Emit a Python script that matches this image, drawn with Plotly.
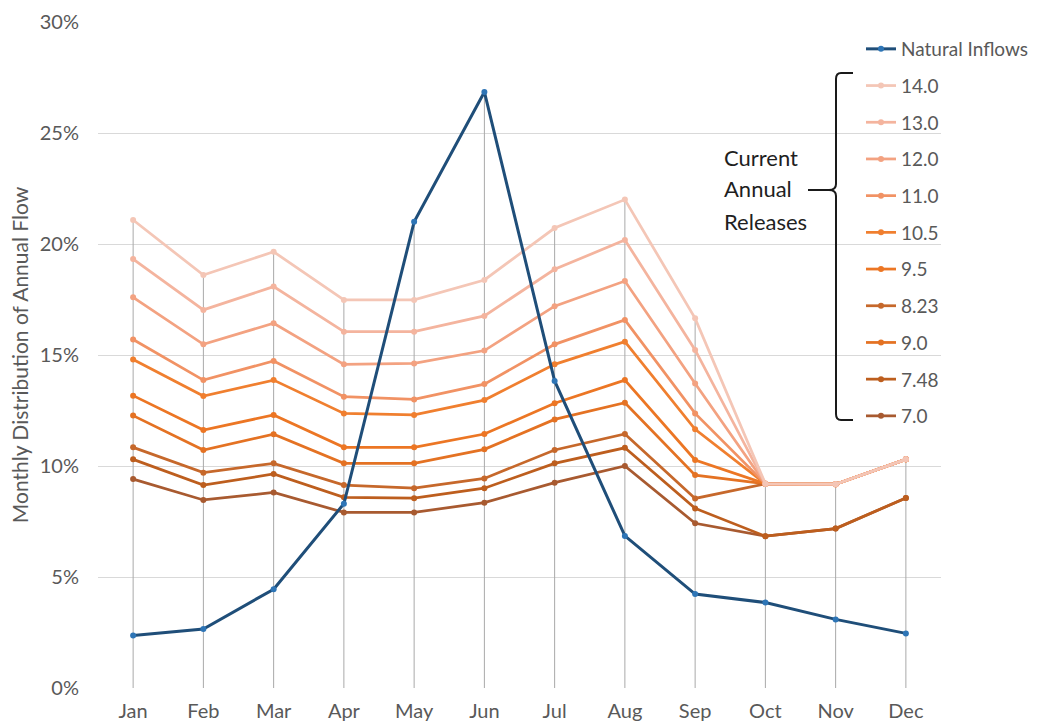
import plotly.graph_objects as go

months = ["Jan", "Feb", "Mar", "Apr", "May", "Jun",
          "Jul", "Aug", "Sep", "Oct", "Nov", "Dec"]

# Monthly distribution of annual flow, in percent
natural_inflows = [2.36, 2.66, 4.45, 8.3, 21.0, 26.85, 13.83, 6.85, 4.23, 3.85, 3.09, 2.46]

release_names = ["14.0", "13.0", "12.0", "11.0", "10.5", "9.5", "8.23", "9.0", "7.48", "7.0"]

rel_14_0 = [21.08, 18.6, 19.65, 17.48, 17.48, 18.38, 20.72, 22.0, 16.65, 9.2, 9.18, 10.3]
rel_13_0 = [19.32, 17.03, 18.08, 16.05, 16.05, 16.76, 18.86, 20.18, 15.23, 9.2, 9.18, 10.3]
rel_12_0 = [17.6, 15.48, 16.43, 14.58, 14.62, 15.2, 17.2, 18.33, 13.72, 9.2, 9.18, 10.3]
rel_11_0 = [15.7, 13.87, 14.73, 13.12, 13.0, 13.69, 15.48, 16.58, 12.37, 9.2, 9.18, 10.3]
rel_10_5 = [14.8, 13.15, 13.87, 12.37, 12.3, 12.97, 14.58, 15.6, 11.65, 9.2, 9.18, 10.3]
rel_9_5 = [13.17, 11.62, 12.3, 10.84, 10.84, 11.44, 12.83, 13.87, 10.27, 9.2, 9.18, 10.3]
rel_8_23 = [10.84, 9.7, 10.12, 9.14, 9.0, 9.44, 10.72, 11.44, 8.54, 9.2, 9.18, 10.3]
rel_9_0 = [12.27, 10.72, 11.43, 10.12, 10.12, 10.75, 12.1, 12.85, 9.59, 9.2, 9.18, 10.3]
rel_7_48 = [10.3, 9.14, 9.64, 8.59, 8.55, 9.0, 10.12, 10.82, 8.09, 6.84, 7.18, 8.56]
rel_7_0 = [9.41, 8.47, 8.81, 7.91, 7.91, 8.35, 9.25, 10.0, 7.42, 6.84, 7.18, 8.56]

release_series = [rel_14_0, rel_13_0, rel_12_0, rel_11_0, rel_10_5,
                  rel_9_5, rel_8_23, rel_9_0, rel_7_48, rel_7_0]

release_colors = ["#F4C6B6", "#F4B49E", "#F3A281", "#F19264", "#F07F2F",
                  "#EC7624", "#C6682B", "#E47223", "#BD5E1E", "#A85A30"]

y_ticks = [0, 5, 10, 15, 20, 25, 30]
y_tick_labels = [f"{v}%" for v in y_ticks]

fig = go.Figure()

# Drop lines from the highest point of each month down to the baseline
all_series = [natural_inflows] + release_series
drop_x, drop_y = [], []
for i, m in enumerate(months):
    top = max(s[i] for s in all_series)
    drop_x += [m, m, None]
    drop_y += [0, top, None]
fig.add_trace(go.Scatter(x=drop_x, y=drop_y, mode="lines",
                         line=dict(color="#A9A9A9", width=1),
                         showlegend=False, hoverinfo="skip"))

# Release lines (drawn bottom-up so lighter lines stay on top)
for name, vals, col in reversed(list(zip(release_names, release_series, release_colors))):
    fig.add_trace(go.Scatter(
        x=months, y=vals, name=name, mode="lines+markers",
        line=dict(color=col, width=2.75),
        marker=dict(color=col, size=6),
        legendgroup=name, legendrank=release_names.index(name) + 2,
    ))

fig.add_trace(go.Scatter(
    x=months, y=natural_inflows, name="Natural Inflows", mode="lines+markers",
    line=dict(color="#1F4E79", width=3),
    marker=dict(color="#2E75B6", size=6),
    legendgroup="ni", legendrank=1,
))

L, R, T, B = 98, 105, 22, 39
W, H = 1046, 727
pw, ph = W - L - R, H - T - B


def px(x):
    return (x - L) / pw


def py(y):
    return (H - B - y) / ph


# Brace grouping the release legend entries
brace = (f"M {px(853)} {py(73)} L {px(841)} {py(73)} "
         f"Q {px(836)} {py(73)} {px(836)} {py(79)} "
         f"L {px(836)} {py(184)} Q {px(836)} {py(190)} {px(829)} {py(190)} "
         f"Q {px(836)} {py(190)} {px(836)} {py(196)} "
         f"L {px(836)} {py(414)} Q {px(836)} {py(420)} {px(841)} {py(420)} "
         f"L {px(853)} {py(420)}")

shapes = [
    dict(type="path", xref="paper", yref="paper", path=brace,
         line=dict(color="#1A1A1A", width=2)),
    dict(type="line", xref="paper", yref="paper",
         x0=px(808), x1=px(829), y0=py(190), y1=py(190),
         line=dict(color="#1A1A1A", width=2)),
]

annotations = []
for txt, yy in [("Current", 158), ("Annual", 189), ("Releases", 221)]:
    annotations.append(dict(
        text=txt, xref="paper", yref="paper", x=px(722), y=py(yy),
        xanchor="left", yanchor="middle", showarrow=False,
        font=dict(size=22, color="#1F1F1F"),
    ))

fig.update_layout(
    width=W, height=H,
    margin=dict(l=L, r=R, t=T, b=B),
    paper_bgcolor="white", plot_bgcolor="white",
    font=dict(family="Lato, 'Noto Sans', sans-serif", color="#595959"),
    xaxis=dict(
        type="category", categoryorder="array", categoryarray=months,
        range=[-0.5, 11.5], showgrid=False, zeroline=False, showline=False,
        ticks="", tickfont=dict(size=20, color="#595959"),
        ticklabelstandoff=9, automargin=False,
    ),
    yaxis=dict(
        range=[0, 30], tickmode="array", tickvals=y_ticks, ticktext=y_tick_labels,
        showgrid=True, gridcolor="#D9D9D9", gridwidth=1,
        zeroline=False, showline=False, ticks="",
        tickfont=dict(size=20, color="#595959"),
        ticklabelstandoff=18, automargin=False,
        title=dict(text="Monthly Distribution of Annual Flow",
                   font=dict(size=21, color="#595959"), standoff=5),
    ),
    legend=dict(
        xref="paper", yref="paper",
        x=px(861), y=py(30), xanchor="left", yanchor="top",
        font=dict(size=19, color="#595959"),
        traceorder="grouped", tracegroupgap=9,
        bgcolor="rgba(0,0,0,0)", itemwidth=30, maxheight=700,
    ),
    shapes=shapes,
    annotations=annotations,
    showlegend=True,
)

fig.write_html("out.html")
